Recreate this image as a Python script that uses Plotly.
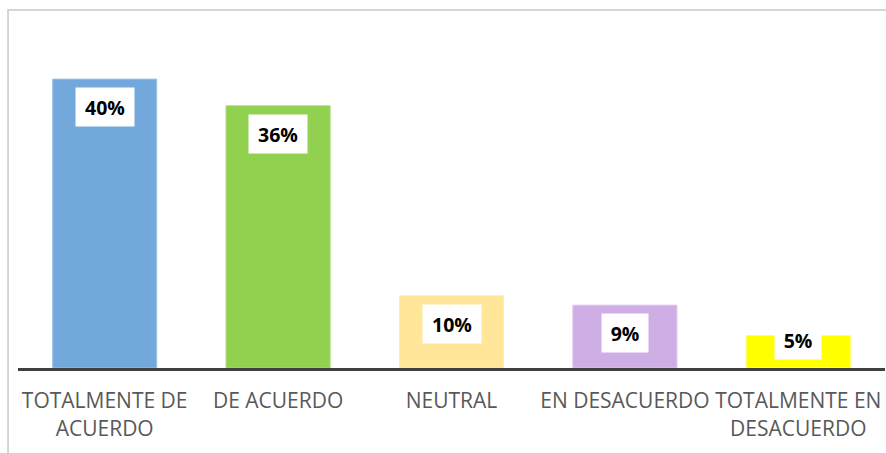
import plotly.graph_objects as go

categories = ["TOTALMENTE DE<br>ACUERDO", "DE ACUERDO", "NEUTRAL", "EN DESACUERDO", "TOTALMENTE EN<br>DESACUERDO"]
values = [40, 36.3, 10, 8.7, 4.5]
value_labels = ["40%", "36%", "10%", "9%", "5%"]
bar_colors = ["#72A8DB", "#92D050", "#FFE699", "#CFAEE6", "#FFFF00"]
edge_colors = ["#9DC3E6", "#A9DA74", "#FFEBB0", "#DCC3EE", "#FFFF66"]

fig = go.Figure()
fig.add_trace(go.Bar(
    x=categories, y=values,
    marker=dict(color=bar_colors, line=dict(color=edge_colors, width=1)),
    hoverinfo="skip",
))

for cat, v, lab in zip(categories, values, value_labels):
    small = v < 6
    fig.add_annotation(
        x=cat, y=0 if small else v, xref="x", yref="y",
        text="<b>" + lab + "</b>", showarrow=False,
        yanchor="bottom" if small else "top",
        yshift=8 if small else -8,
        bgcolor="white", borderpad=0,
        width=12 * len(lab) + 22, height=38,
        font=dict(family="Open Sans", size=19.5, color="black"),
    )

# chart border (light gray frame)
fig.add_shape(type="rect", xref="paper", yref="paper",
              x0=-0.0115, x1=1.02, y0=-0.3, y1=1.1015,
              line=dict(color="#C9C9C9", width=1.5), fillcolor="rgba(0,0,0,0)", layer="below")

fig.update_layout(
    width=886, height=453,
    margin=dict(l=18, r=1, t=43, b=85),
    paper_bgcolor="white", plot_bgcolor="white",
    bargap=0.4, showlegend=False,
    font=dict(family="Open Sans", size=21, color="#595959"),
)
fig.update_xaxes(showline=True, linecolor="#404040", linewidth=3,
                 ticks="", showgrid=False, ticklabelstandoff=12,
                 tickfont=dict(size=21, color="#595959"))
fig.update_yaxes(range=[0, 45], visible=False, showgrid=False)

fig.write_html("out.html",
               config={"displayModeBar": False, "staticPlot": True},
               post_script="document.body.style.margin='0';document.body.style.overflow='hidden';")
